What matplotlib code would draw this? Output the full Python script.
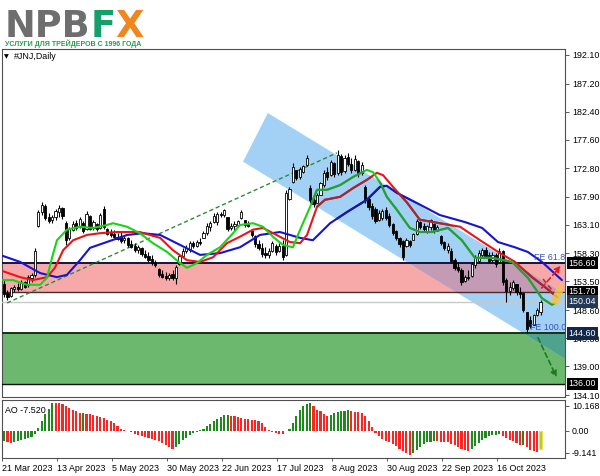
import matplotlib
matplotlib.use("Agg")
import matplotlib.pyplot as plt
from matplotlib.patches import Rectangle, Polygon
from matplotlib.transforms import blended_transform_factory

plt.rcParams['font.family'] = ['Liberation Sans', 'DejaVu Sans']

# ---- daily candles, bar index 0 = 21 Mar 2023 ----
opens = [153.1, 151.5, 151.0, 152.2, 152.6, 152.2, 153.3, 152.8, 154.0, 154.6,
         163.0, 165.3, 166.4, 164.5, 163.9, 164.4, 165.3, 166.0, 163.5, 160.8,
         162.3, 163.4, 162.8, 163.5, 162.4, 164.6, 162.6, 163.3, 162.6, 165.8,
         162.4, 161.8, 161.5, 161.1, 161.3, 160.5, 160.8, 159.8, 159.5, 158.9,
         159.2, 158.1, 157.8, 157.3, 156.8, 155.6, 154.8, 154.4, 154.0, 154.7,
         154.0, 156.4, 157.8, 158.7, 158.8, 160.0, 159.6, 160.2, 160.9, 161.8,
         162.8, 163.6, 163.6, 165.0, 164.8, 164.4, 162.6, 162.9, 163.1, 164.3,
         163.9, 163.2, 162.0, 161.3, 159.9, 159.2, 158.4, 158.0, 158.6, 159.6,
         158.6, 159.6, 158.0, 167.6, 170.4, 172.4, 171.3, 172.2, 173.4, 169.4,
         167.4, 166.9, 168.3, 170.0, 172.2, 171.6, 173.7, 171.9, 174.9, 172.3,
         174.7, 173.5, 172.5, 174.0, 171.9, 169.6, 167.5, 166.4, 165.8, 164.0,
         164.3, 165.6, 164.6, 163.2, 162.0, 160.9, 160.3, 159.6, 160.4, 160.6,
         161.6, 163.6, 162.9, 162.0, 162.7, 163.2, 162.1, 161.2, 160.2, 158.9,
         158.7, 157.2, 156.0, 155.5, 153.6, 154.3, 154.4, 156.2, 157.0, 158.0,
         158.9, 157.9, 157.2, 157.9, 156.8, 158.6, 153.8, 151.8, 152.3, 153.0,
         151.7, 151.5, 148.2, 146.9, 146.1, 147.7, 148.2]
highs = [153.7, 152.0, 152.6, 152.9, 153.2, 153.7, 153.5, 154.6, 154.9, 159.1,
         165.7, 167.1, 166.6, 165.1, 164.8, 165.9, 166.5, 166.2, 163.7, 162.8,
         163.7, 164.0, 164.5, 163.7, 165.5, 164.8, 163.9, 163.4, 165.1, 166.3,
         162.6, 162.5, 162.2, 161.7, 162.0, 161.4, 161.1, 160.5, 160.0, 159.7,
         159.4, 158.9, 158.5, 157.9, 157.1, 155.7, 155.4, 155.1, 154.9, 155.4,
         156.3, 158.0, 159.1, 159.7, 160.3, 160.3, 160.5, 160.8, 162.0, 163.4,
         163.7, 165.1, 165.4, 165.4, 165.9, 164.5, 163.4, 163.7, 164.0, 165.7,
         164.0, 163.7, 162.2, 161.4, 160.5, 160.0, 159.4, 159.1, 160.3, 159.9,
         160.0, 160.5, 169.1, 169.6, 173.6, 172.5, 173.0, 173.3, 175.0, 169.9,
         167.9, 168.5, 170.5, 172.5, 173.0, 174.2, 173.9, 175.9, 175.2, 175.0,
         175.3, 174.5, 175.0, 174.2, 173.9, 169.9, 167.9, 166.8, 166.2, 165.7,
         165.9, 166.2, 165.1, 163.4, 162.2, 161.1, 160.5, 160.8, 160.5, 161.7,
         164.2, 163.7, 163.4, 163.1, 164.2, 163.4, 163.1, 161.4, 160.3, 160.0,
         159.1, 157.4, 156.8, 155.7, 154.6, 155.4, 156.8, 158.0, 158.8, 159.1,
         159.4, 158.5, 158.5, 158.3, 159.1, 158.8, 154.0, 153.4, 153.7, 153.1,
         152.6, 151.7, 148.3, 147.5, 148.0, 148.9, 150.3]
lows = [150.9, 150.3, 150.8, 151.7, 151.9, 152.0, 152.3, 152.6, 153.4, 154.3,
        162.8, 164.8, 164.0, 163.4, 163.4, 164.0, 164.5, 164.2, 159.7, 160.5,
        162.0, 162.2, 162.6, 161.7, 162.2, 162.2, 162.2, 162.0, 162.4, 162.5,
        161.4, 161.1, 160.8, 160.5, 160.0, 160.0, 159.4, 159.1, 158.5, 158.3,
        157.8, 157.4, 156.8, 156.3, 156.0, 154.3, 154.0, 153.7, 153.7, 153.7,
        153.1, 156.3, 157.7, 158.3, 158.5, 159.1, 159.4, 159.7, 160.8, 161.4,
        162.0, 163.4, 163.1, 164.5, 164.5, 162.0, 162.2, 162.2, 162.8, 164.2,
        162.8, 162.8, 161.1, 159.4, 158.8, 157.7, 157.4, 157.4, 158.5, 158.0,
        158.5, 157.1, 157.8, 167.4, 170.2, 170.8, 171.0, 171.9, 173.1, 166.8,
        166.2, 166.8, 168.2, 169.6, 170.8, 171.4, 171.3, 171.6, 171.6, 171.9,
        173.1, 171.9, 172.3, 171.3, 171.7, 166.8, 165.7, 164.2, 163.4, 163.7,
        163.9, 163.9, 162.8, 161.4, 160.5, 159.4, 157.1, 159.4, 159.4, 160.5,
        161.4, 162.4, 162.0, 161.7, 162.2, 161.7, 162.0, 159.7, 158.8, 158.3,
        156.6, 155.4, 155.1, 152.9, 153.4, 153.7, 154.3, 155.7, 156.6, 157.7,
        157.4, 156.6, 156.8, 156.0, 156.6, 152.9, 150.0, 151.1, 152.0, 151.1,
        150.6, 148.3, 144.6, 145.5, 146.0, 147.6, 147.7]
closes = [151.4, 150.8, 152.3, 152.6, 152.2, 153.3, 152.6, 154.2, 154.6, 158.6,
          165.3, 166.5, 164.3, 163.8, 164.5, 165.5, 166.0, 164.6, 160.6, 162.5,
          163.3, 162.6, 164.2, 162.0, 164.9, 162.5, 163.6, 162.4, 164.8, 162.8,
          161.6, 161.4, 161.0, 160.7, 160.3, 160.9, 159.7, 159.4, 158.8, 159.3,
          158.1, 157.7, 157.2, 156.6, 156.2, 154.6, 154.3, 154.0, 154.6, 154.1,
          156.0, 157.8, 158.7, 159.2, 160.0, 159.5, 160.2, 160.0, 161.8, 163.0,
          163.5, 164.7, 165.0, 164.8, 165.6, 162.4, 162.9, 163.2, 163.7, 165.3,
          163.1, 163.0, 161.4, 159.8, 159.1, 158.1, 158.0, 158.6, 160.0, 158.5,
          159.6, 157.6, 168.6, 169.2, 173.0, 171.2, 172.6, 173.1, 174.5, 167.3,
          166.6, 168.2, 170.2, 172.0, 171.3, 173.9, 171.8, 175.1, 172.1, 174.6,
          173.5, 172.4, 174.4, 171.8, 173.4, 167.3, 166.1, 164.7, 163.8, 165.2,
          165.5, 164.3, 163.1, 161.8, 160.8, 159.8, 157.6, 160.5, 159.7, 161.5,
          163.8, 162.8, 162.4, 162.9, 163.9, 162.0, 162.8, 160.0, 159.1, 159.6,
          157.0, 155.8, 155.4, 153.4, 154.3, 154.0, 156.5, 157.6, 158.4, 158.9,
          157.8, 157.0, 157.9, 156.5, 158.7, 153.4, 151.8, 152.5, 153.3, 151.6,
          151.4, 148.6, 145.3, 145.9, 147.7, 148.6, 150.04]

# ---- Alligator lines (bar index, price) ----
jaw_x = [-1.2, 4.7, 10.5, 15.4, 18.3, 22.1, 25.0, 29.9, 35.8, 40.4, 45.4, 51.2, 57.0,
         62.8, 68.6, 74.4, 80.2, 86.1, 89.8, 94.8, 99.7, 105.5, 109.3, 111.3, 114.2,
         118.9, 126.7, 134.0, 139.0, 143.6, 148.5, 152.3, 156.4, 162.2]
jaw_y = [158.0, 156.8, 154.9, 154.2, 154.6, 157.1, 159.2, 160.2, 161.4, 161.7, 161.4,
         159.7, 158.0, 158.3, 159.3, 161.4, 161.9, 160.9, 160.5, 163.4, 165.3, 167.4,
         169.6, 169.8, 168.6, 167.2, 164.8, 163.6, 162.6, 160.2, 159.3, 158.5, 156.8, 153.7]
teeth_x = [-1.2, 4.7, 8.4, 12.5, 14.8, 17.2, 20.1, 24.1, 27.9, 32.9, 37.5, 39.5, 45.4,
           49.1, 53.2, 57.0, 60.8, 64.8, 68.6, 72.4, 75.3, 80.2, 83.1, 86.1, 88.1, 91.0,
           93.3, 97.7, 101.5, 105.5, 108.4, 110.2, 113.1, 117.2, 120.9, 126.7, 132.6,
           138.4, 144.2, 148.6, 153.5, 157.3, 160.8]
teeth_y = [155.4, 154.2, 153.7, 154.2, 155.8, 158.8, 160.5, 161.4, 161.7, 161.9, 161.9,
           161.9, 160.9, 158.8, 157.1, 156.8, 157.6, 160.0, 161.1, 162.3, 162.6, 161.1,
           160.2, 160.0, 161.4, 166.2, 167.4, 167.9, 169.4, 170.8, 172.0, 171.6, 169.6,
           166.9, 164.0, 163.4, 162.8, 160.5, 158.3, 156.8, 154.2, 152.5, 150.8]
lips_x = [-1.2, 2.6, 6.7, 10.5, 12.5, 14.0, 15.4, 18.3, 22.1, 25.9, 29.9, 31.7, 35.8,
          39.5, 43.3, 47.4, 51.2, 53.2, 56.1, 59.0, 62.8, 66.6, 68.6, 72.4, 75.3, 78.2,
          81.1, 84.0, 86.1, 89.0, 91.0, 93.9, 97.7, 101.5, 105.5, 107.3, 109.3, 111.3,
          114.2, 118.0, 120.9, 124.4, 129.1, 133.1, 136.9, 141.9, 147.7, 152.3, 156.4,
          159.3, 160.2]
lips_y = [153.7, 153.7, 152.9, 152.9, 154.1, 157.6, 160.5, 162.3, 162.8, 162.6, 163.1,
          163.4, 162.8, 161.7, 160.0, 158.5, 156.6, 155.8, 156.6, 158.0, 159.3, 161.7,
          163.1, 163.4, 162.8, 161.1, 159.7, 159.3, 162.3, 166.2, 169.1, 169.1, 169.9,
          171.3, 172.5, 172.1, 170.4, 167.9, 165.7, 162.6, 161.9, 161.9, 162.6, 160.5,
          157.5, 157.5, 156.8, 154.1, 150.6, 149.5, 149.8]

# ---- Awesome Oscillator, one value per bar ----
ao_values = [-4.2, -4.6, -4.9, -4.7, -4.4, -4.0, -3.6, -3.1, -2.5, -1.3,
             1.2, 3.8, 6.8, 8.9, 11.5, 11.4, 11.3, 10.9, 10.0, 9.3,
             8.6, 8.0, 7.3, 7.4, 7.0, 6.8, 6.5, 6.1, 5.7, 5.2,
             4.5, 3.8, 3.0, 1.9, 0.9, 0.3, -0.3, -0.7, -1.2, -1.6,
             -2.3, -2.7, -3.0, -3.4, -3.9, -4.4, -5.1, -5.8, -6.5, -7.5,
             -6.8, -5.4, -4.0, -2.9, -1.8, -1.0, -0.4, 0.1, 0.8, 1.8,
             2.7, 3.8, 4.9, 5.7, 6.3, 6.6, 6.2, 5.9, 5.5, 5.2,
             5.0, 4.8, 4.6, 4.5, 4.1, 3.0, 1.6, 0.3, -0.5, -1.0,
             -1.3, -1.4, -0.3, 0.8, 3.1, 5.9, 8.6, 10.0, 11.0, 11.4,
             10.0, 8.6, 7.9, 6.8, 5.9, 6.6, 7.3, 7.7, 7.9, 8.2,
             8.5, 7.9, 7.8, 7.7, 7.3, 5.9, 3.8, 1.4, -1.0, -2.3,
             -3.3, -4.1, -4.8, -5.5, -6.4, -7.4, -8.5, -9.3, -9.9, -9.2,
             -7.9, -6.6, -5.5, -4.8, -4.5, -4.35, -4.4, -4.45, -4.5, -4.8,
             -5.3, -6.0, -6.7, -7.4, -8.1, -8.5, -7.5, -6.2, -4.9, -3.8,
             -3.0, -2.3, -1.9, -1.6, -1.5, -2.2, -2.9, -3.7, -4.4, -5.1,
             -6.0, -5.8, -6.8, -7.8, -8.5, -8.9, -7.52]

price_ticks = [192.10, 187.20, 182.40, 177.60, 172.80, 167.90, 163.10, 158.30,
               153.50, 148.60, 143.80, 139.00, 134.10]
date_bars = [0, 16, 32, 48, 64, 80, 96, 112, 128, 144]
date_labels = ["21 Mar 2023", "13 Apr 2023", "5 May 2023", "30 May 2023", "22 Jun 2023",
               "17 Jul 2023", "8 Aug 2023", "30 Aug 2023", "22 Sep 2023", "16 Oct 2023"]

resistance = 156.60
pivot = 151.70
bid = 150.04
target_1 = 144.60
target_2 = 136.00

channel_pts = [(76.7, 182.2), (69.5, 173.9), (175.0, 136.0), (175.0, 147.0)]
trend_start = (0.9, 149.8)
trend_end = (96.8, 175.4)
down_arrow = [(154.9, 144.3), (161.0, 136.7)]
up_arrow = [(155.8, 152.0), (162.4, 156.5)]
cross_line = [(156.7, 153.9), (159.3, 152.0)]
yellow_zone = [(158.7, 149.9), (160.5, 152.2), (162.2, 153.4), (162.5, 151.5), (160.8, 149.4)]

W, H = 600, 476
fig = plt.figure(figsize=(6.0, 4.76), dpi=100)
fig.patch.set_facecolor("white")


def fbox(l, t, r, b):
    return [l / W, 1 - b / H, (r - l) / W, (b - t) / H]


ax = fig.add_axes(fbox(2, 49, 565, 397))
ao = fig.add_axes(fbox(2, 400, 565, 458))
XL = (-0.58, 163.1)
FS = 6.4

# ---- zones ----
red_zone = Rectangle((XL[0], pivot), XL[1] - XL[0], resistance - pivot,
                     fc="#f7a9a9", ec="none", zorder=1)
green_zone = Rectangle((XL[0], target_2), XL[1] - XL[0], target_1 - target_2,
                       fc="#6cb86e", ec="none", zorder=1)
ax.add_patch(red_zone)
ax.add_patch(green_zone)

chan = Polygon(channel_pts, closed=True, fc="#a3d1f6", ec="none", zorder=2)
ax.add_patch(chan)
ov1 = Polygon(channel_pts, closed=True, fc="#c49bb5", ec="none", zorder=2.5)
ax.add_patch(ov1)
ov1.set_clip_path(red_zone)
ov2 = Polygon(channel_pts, closed=True, fc="#4fa28e", ec="none", zorder=2.5)
ax.add_patch(ov2)
ov2.set_clip_path(green_zone)

ax.axhline(resistance, color="#14143c", lw=1.4, zorder=3)
ax.axhline(pivot, color="#4a2a2a", lw=1.0, zorder=3)
ax.axhline(bid, color="#c8c8c8", lw=1.0, zorder=3)
ax.axhline(target_1, color="#143214", lw=1.4, zorder=3)
ax.axhline(target_2, color="#101010", lw=1.0, zorder=3)

# ---- trend line ----
ax.plot([trend_start[0], trend_end[0]], [trend_start[1], trend_end[1]],
        ls=(0, (3, 2)), color="#2e8b3a", lw=1.0, zorder=4)

# ---- candles ----
bars = list(range(len(closes)))
ax.vlines(bars, lows, highs, color="black", lw=0.8, zorder=5)
for i in bars:
    o, c = opens[i], closes[i]
    up = c >= o
    ax.add_patch(Rectangle((i - 0.32, min(o, c)), 0.64, max(abs(c - o), 0.08),
                           fc="white" if up else "black", ec="black", lw=0.6, zorder=6))

# ---- alligator ----
lines = [(jaw_x, jaw_y, "#1414d2", "#1a1a9a"),
         (teeth_x, teeth_y, "#e81616", "#9c2c3a"),
         (lips_x, lips_y, "#16d416", "#2a9a40")]
for xs, ys, col, dark in lines:
    ax.plot(xs, ys, color=col, lw=1.5, zorder=7, solid_capstyle="round")
    inner, = ax.plot(xs, ys, color=dark, lw=1.5, zorder=7.5, solid_capstyle="round")
    inner.set_clip_path(chan)

# ---- forecast marks ----
ax.add_patch(Polygon(yellow_zone, closed=True, fc="#f3c24a", ec="none", alpha=0.85, zorder=8))
ax.annotate("", xy=down_arrow[1], xytext=down_arrow[0],
            arrowprops=dict(arrowstyle="-|>", color="#1f7a1f", lw=1.2, ls=(0, (3, 2)),
                            mutation_scale=9), zorder=9)
ax.annotate("", xy=up_arrow[1], xytext=up_arrow[0],
            arrowprops=dict(arrowstyle="-|>", color="#e02020", lw=1.2, ls=(0, (3, 2)),
                            mutation_scale=9), zorder=9)
ax.plot([cross_line[0][0], cross_line[1][0]], [cross_line[0][1], cross_line[1][1]],
        color="#e02020", lw=1.2, ls=(0, (3, 2)), zorder=9)

ax.text(154.0, resistance + 0.25, "FE 61.8", fontsize=FS, color="#3a50b4", va="bottom", zorder=10)
ax.text(153.0, target_1 + 0.2, "FE 100.0", fontsize=FS, color="#3a50b4", va="bottom", zorder=10)

# ---- main axes styling ----
ax.set_xlim(*XL)
ax.set_ylim(133.76, 193.12)
ax.yaxis.tick_right()
ax.set_yticks(price_ticks)
ax.set_yticklabels(["%.2f" % v for v in price_ticks])
ax.tick_params(axis="y", labelsize=FS, length=3, width=0.6, color="#404040", pad=2)
ax.set_xticks([])
for s in ax.spines.values():
    s.set_color("#505050")
    s.set_linewidth(0.8)

trans = blended_transform_factory(ax.transAxes, ax.transData)
for val, bg in [(resistance, "black"), (pivot, "black"), (bid, "#223a58"),
                (target_1, "#10284a"), (target_2, "black")]:
    ax.text(1.006, val, "%.2f" % val, transform=trans, fontsize=FS, color="white",
            va="center", ha="left", zorder=12, clip_on=False,
            bbox=dict(boxstyle="square,pad=0.2", fc=bg, ec="none"))

ax.text(0.004, 0.985, "\u25bc", transform=ax.transAxes, fontsize=4.5, va="top", ha="left",
        family="DejaVu Sans")
ax.text(0.022, 0.99, "#JNJ,Daily", transform=ax.transAxes, fontsize=FS, va="top", ha="left")

# ---- AO ----
ao_colors = ["#1e8a1e"]
for i in range(1, len(ao_values)):
    ao_colors.append("#1e8a1e" if ao_values[i] > ao_values[i - 1] else "#ff2424")
ao_colors[-1] = "#b4c83a"
ao.bar(bars, ao_values, width=0.62, color=ao_colors, edgecolor="none", zorder=3)
ao.bar([bars[-1]], [ao_values[-1]], width=0.9, color="none", edgecolor="#f0e040", lw=0.8, zorder=4)
ao.set_xlim(*XL)
ao.set_ylim(-11.21, 12.61)
ao.yaxis.tick_right()
ao.set_yticks([10.168, 0.0, -9.141])
ao.set_yticklabels(["10.168", "0.00", "-9.141"])
ao.tick_params(axis="y", labelsize=FS, length=3, width=0.6, color="#404040", pad=2)
ao.set_xticks([b - 0.55 for b in date_bars])
ao.set_xticklabels(date_labels, ha="left")
ao.tick_params(axis="x", labelsize=FS, length=2, width=0.6, color="#404040", pad=2)
for s in ao.spines.values():
    s.set_color("#505050")
    s.set_linewidth(0.8)
ao.text(0.006, 0.9, "AO -7.520", transform=ao.transAxes, fontsize=FS, va="top", ha="left")

# ---- logo ----
logo_font = dict(fontsize=26.5, fontweight="bold", family="DejaVu Sans", va="baseline", ha="left")
fig.text(5 / W, 1 - 37 / H, "NPB", color="#6e6e6e", **logo_font)
fig.text(91 / W, 1 - 37 / H, "F", color="#14a06a", **logo_font)
fig.text(115 / W, 1 - 37 / H, "X", color="#f0861e", **logo_font)
fig.text(5 / W, 1 - 45.5 / H, "УСЛУГИ ДЛЯ ТРЕЙДЕРОВ С 1996 ГОДА", fontsize=5.0,
         fontweight="bold", color="#2a9a4a", va="baseline", ha="left")

fig.savefig("out.png", dpi=100)
